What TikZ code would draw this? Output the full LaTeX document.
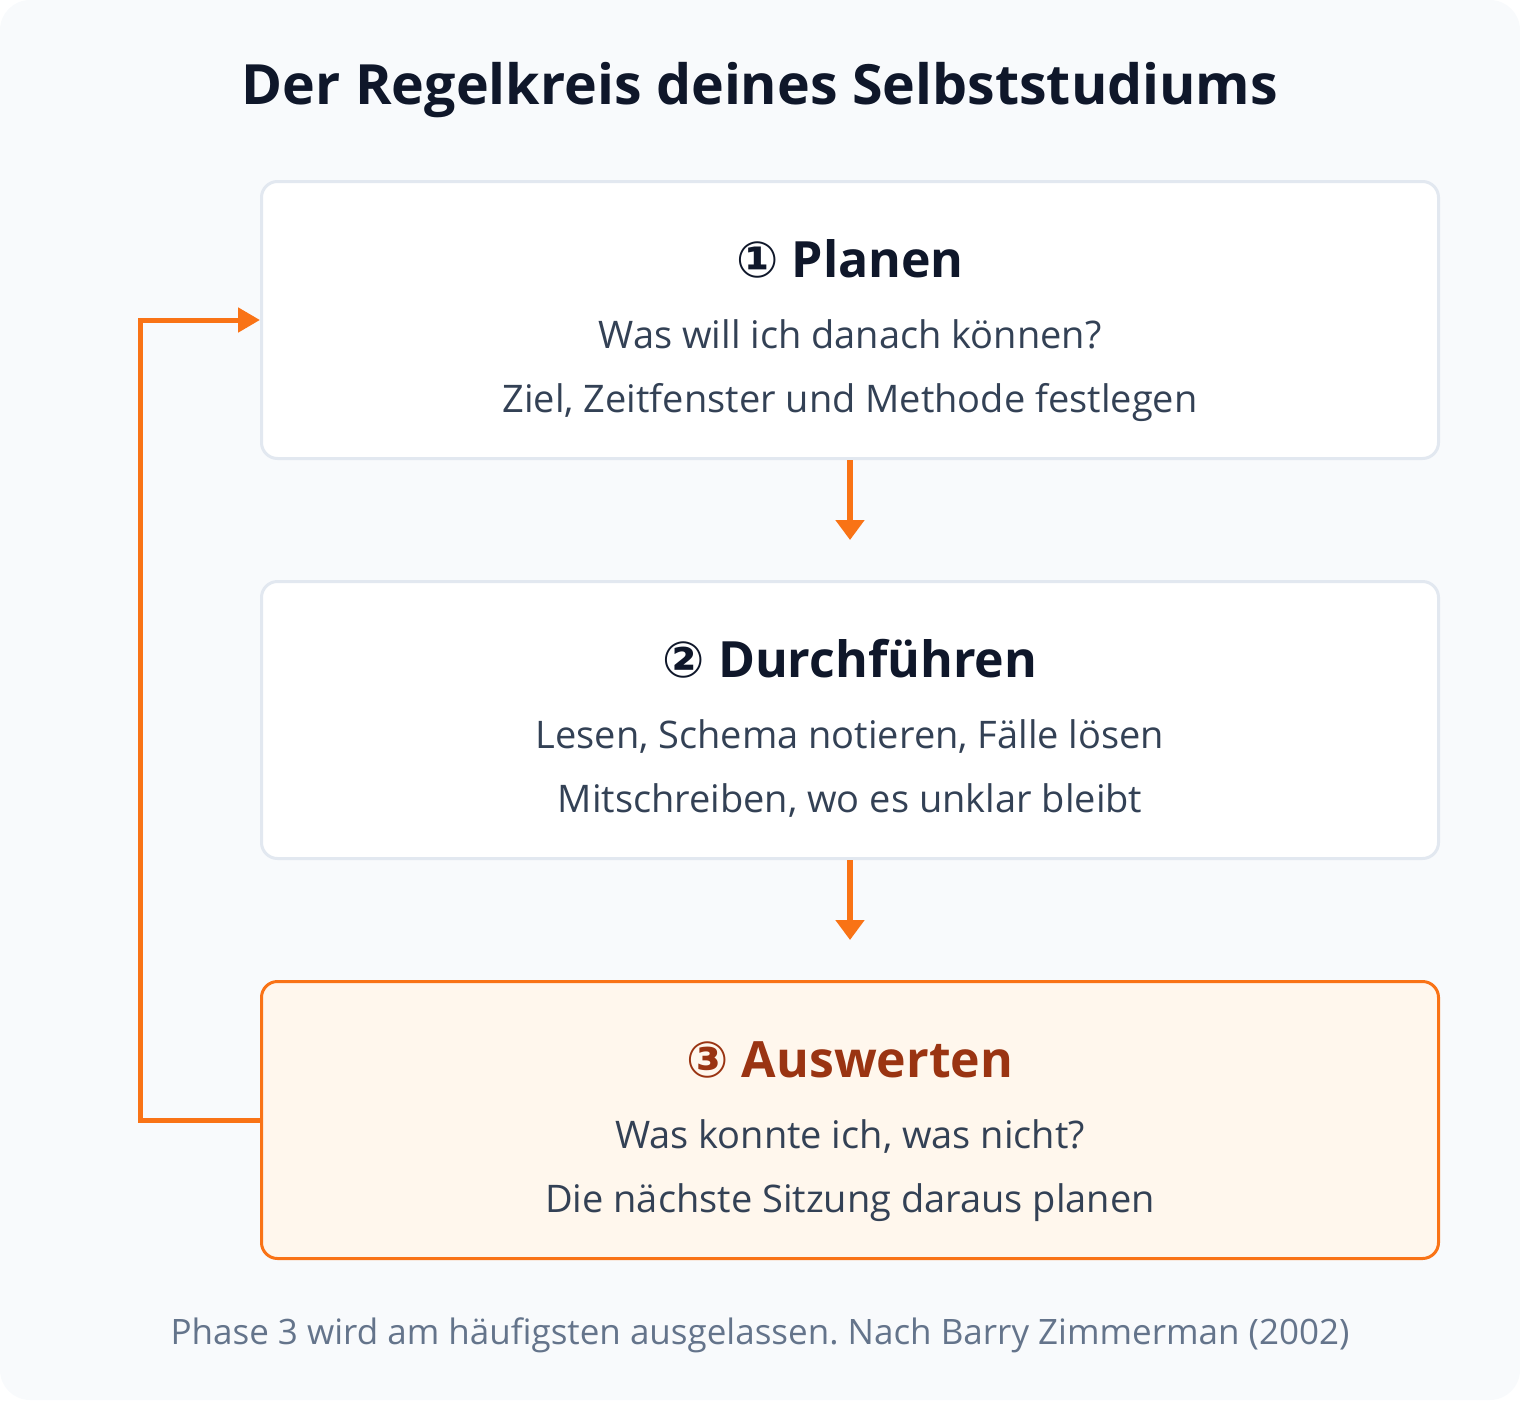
\documentclass[tikz,border=0pt]{standalone}
\usepackage{fontspec}
\setmainfont{Open Sans}
\newfontfamily\circfont{DejaVu Sans}
\usetikzlibrary{arrows.meta}
\usepackage{xcolor}
\frenchspacing

\definecolor{bgcol}{HTML}{F8FAFC}
\definecolor{edgecol}{HTML}{E2E8F0}
\definecolor{inkcol}{HTML}{0F172A}
\definecolor{bodycol}{HTML}{334155}
\definecolor{orangecol}{HTML}{F97316}
\definecolor{peachcol}{HTML}{FFF7ED}
\definecolor{rustcol}{HTML}{9A3412}
\definecolor{notecol}{HTML}{64748B}

\tikzset{
  phase/.style={draw=edgecol,line width=3pt,fill=white,rounded corners=16pt,
    minimum width=1177pt,minimum height=277pt,inner sep=0pt},
  hot/.style={draw=orangecol,fill=peachcol},
  head/.style={anchor=base,text=inkcol,font=\fontsize{50}{60}\selectfont\bfseries},
  line/.style={anchor=base,text=bodycol,font=\fontsize{38}{46}\selectfont},
  flow/.style={draw=orangecol,line width=6pt,-{Triangle[length=20pt,width=28pt]}},
}

\begin{document}
\begin{tikzpicture}[x=1pt,y=-1pt]
% centre-x of boxes & box gap
\newcommand{\cx}{850}
\newcommand{\gap}{400}

% Canvas
\useasboundingbox (0,0) rectangle (1520,1408);
\fill[bgcol,rounded corners=30pt] (0,0) rectangle (1520,1400);
\node[anchor=base,text=inkcol,font=\fontsize{55.5}{66}\selectfont\bfseries] (title) at (760,104) {Der Regelkreis deines Selbststudiums};

% Boxes
\node[phase] (planen) at (\cx,320) {};
\node[phase] (durch) at (\cx,320+\gap) {};
\node[phase,hot] (auswert) at (\cx,320+2*\gap) {};

% Phase 1
\node[head] (planenH) at (\cx,277) {{\circfont ①} Planen};
\node[line] (planenA) at (\cx,348) {Was will ich danach können?};
\node[line] (planenB) at (\cx,412) {Ziel, Zeitfenster und Methode festlegen};
% Phase 2
\node[head] (durchH) at (\cx,277+\gap) {{\circfont ②} Durchführen};
\node[line] (durchA) at (\cx,348+\gap) {Lesen, Schema notieren, Fälle lösen};
\node[line] (durchB) at (\cx,412+\gap) {Mitschreiben, wo es unklar bleibt};
% Phase 3
\node[head,text=rustcol] (auswertH) at (\cx,277+2*\gap) {{\circfont ③} Auswerten};
\node[line] (auswertA) at (\cx,348+2*\gap) {Was konnte ich, was nicht?};
\node[line] (auswertB) at (\cx,412+2*\gap) {Die nächste Sitzung daraus planen};

% Arrows
\draw[flow,shorten >=40pt] (planen) -- (durch);
\draw[flow,shorten >=40pt] (durch) -- (auswert);
\draw[flow,line width=5pt,-{Triangle[length=22pt,width=24pt]}] (auswert.west) -- ++(-120,0) |- (planen.west);

% Note
\node[anchor=base,text=notecol,font=\fontsize{35}{42}\selectfont] (note) at (760,1344) {Phase 3 wird am häufigsten ausgelassen. Nach Barry Zimmerman (2002)};
\end{tikzpicture}
\end{document}
